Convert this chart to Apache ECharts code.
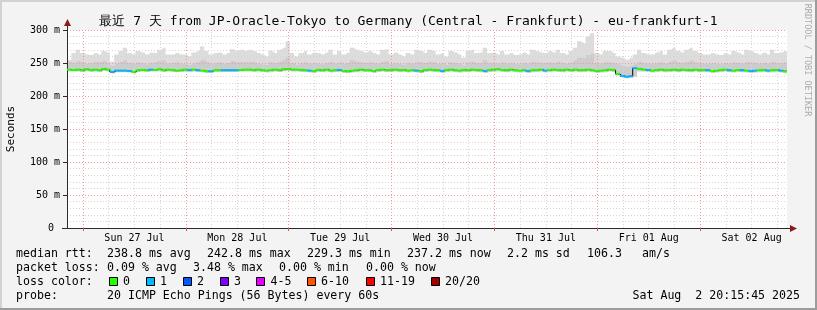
<!DOCTYPE html>
<html><head><meta charset="utf-8">
<script src="https://cdn.jsdelivr.net/npm/echarts@6/dist/echarts.min.js"></script>
<style>html,body{margin:0;padding:0;background:#f3f3f3}#c{width:817px;height:310px}</style>
</head><body><div id="c"></div>
<script>
// ---------- data ----------
const titleText = '最近 7 天 from JP-Oracle-Tokyo to Germany (Central - Frankfurt) - eu-frankfurt-1';
const dayLabels = ['Sun 27 Jul','Mon 28 Jul','Tue 29 Jul','Wed 30 Jul','Thu 31 Jul','Fri 01 Aug','Sat 02 Aug'];
const dayNoonHours = [12,36,60,84,108,132,156];      // hours after 00:00 Sun 27 Jul
const midnightHours = [0,24,48,72,96,120,144];
const sixHourGrid = [6,12,18,30,36,42,54,60,66,78,84,90,102,108,114,126,132,138,150,156,162];
const rangeStart = -3.74, rangeEnd = 164.26;         // 26 Jul 20:15:45 .. 02 Aug 20:15:45
const yTicks = [0,50,100,150,200,250,300];

// hourly samples (ms)
const smokeTop = [
255,265,270,265,263,262,265,263,268,266,252,263,268,273,265,263,268,266,263,266,265,270,273,263,263,265,263,263,260,266,268,275,268,263,265,266,263,265,271,268,270,268,
270,268,265,263,260,268,265,270,273,283,265,260,265,268,263,266,265,263,266,270,263,268,263,266,273,270,268,266,268,265,263,270,271,263,266,263,260,265,263,270,268,265,
270,268,263,265,260,268,266,263,258,268,270,265,266,273,265,266,263,268,263,265,262,263,266,263,270,268,266,265,268,266,270,265,263,268,273,283,280,290,295,265,263,268,
268,265,260,258,255,258,263,270,265,263,263,266,268,263,270,273,268,266,270,273,268,265,263,263,265,263,262,265,263,268,266,263,270,268,265,263,266,263,270,265,266,268];
const innerTop = [
252,250,253,251,249,250,252,251,253,250,246,249,252,254,250,249,251,250,248,250,251,253,254,249,250,251,249,248,247,250,252,255,252,249,250,251,249,250,253,251,252,251,
252,251,249,248,247,251,250,252,254,258,250,247,250,251,249,250,249,248,250,252,249,251,249,250,254,252,251,250,251,250,249,252,253,249,250,249,247,250,249,252,251,250,
252,251,249,250,247,251,250,249,246,251,252,250,250,254,250,250,249,251,249,250,248,249,250,249,252,251,250,250,251,250,252,250,249,251,254,258,257,262,264,250,249,251,
251,250,248,246,244,246,249,252,250,249,249,250,251,249,252,254,251,250,252,254,251,250,249,249,250,249,248,250,249,251,250,249,252,251,250,249,250,249,252,250,250,251];
const smokeLow = [
237,237,237,236.5,237.5,236.5,237,236.5,238,237,234,236,236,236,235.5,234,236.5,237,236.5,237,237,237.5,236.5,237,236.5,236,236.5,237,236.5,237,236.5,236,235,235,236.5,236.5,236.5,236.5,236.5,236.5,237,237,
237,236.5,237,236.5,235.5,236.5,237,236.5,237.5,238,237,237,236.5,236.5,235.5,235,236.5,236.5,237,235.5,236.5,236.5,235,234.5,235.5,236.5,237,236.5,236.5,235,236.5,237,236.5,236.5,237,236.5,236.5,235.5,236.5,235.5,234.5,236.5,
237,236.5,236,235,236.5,237,236,235.5,236.5,236,237,236.5,236,235,236.5,237,237.5,236.5,236,237,236,235.5,236,235,236,236.5,237,235.5,236.5,237,236.5,236,237,236,237,236,236.5,237,236,235,235.5,236,
237,236.5,231,228,227,227.5,229,237,237,236.5,235.5,236.5,237,236,236.5,237,236,237,236.5,236,237,236,236.5,236,235,235.5,236.5,237,236,235.5,236.5,236,235.5,235,235.5,236,236.5,235.5,236,236.5,235.5,234.5];
const median = [
240,239.5,240,239,240.5,239.5,240,239,241,240,236.5,238.5,238.5,238.5,238,236.5,239,239.5,239,240,239.5,240.5,239,240,239.5,238.5,239,240,239.5,240,239,238.5,237.5,237.5,239,239,239,239,239,239,239.5,240,
240,239.5,240,239,238.5,239.5,240,239,240.5,241,240,240,239.5,239,238.5,238,239.5,239,240,238.5,239,239.5,238,237.5,238.5,239,240,239,239,238,239.5,240,239,239.5,240,239,239.5,238.5,239,238.5,237.5,239.5,
240,239.5,239,238,239.5,240,239,238.5,239.5,239,240,239.5,239,238,239.5,240,240.5,239.5,239,240,239,238.5,239,238,239,239.5,240,238.5,239.5,240,239.5,239,240,239,240,239,239.5,240,239,238,238.5,239,
240,239.5,233.5,230.5,229.3,230,242,241,240,239.5,238.5,239.5,240,239,239.5,240,239,240,239.5,239,240,239,239.5,239,238,238.5,239.5,240,239,238.5,239.5,239,238.5,238,238.5,239,239.5,238.5,239,239.5,238.5,237.5];
const lossOneHours = [10,11,12,13,14,19,28,30,33,36,37,38,39,56,63,81,87,97,107,111,129,130,131,132,135,149,154,157,159,160,163,166];

const lossColors = ['#26ff00','#00b8ff','#0059ff','#7e00ff','#e600ff','#ff5500','#ff0000','#a10000'];
const lossLabels = ['0','1','2','3','4-5','6-10','11-19','20/20'];
const rttStats = ['238.8 ms avg','242.8 ms max','229.3 ms min','237.2 ms now','2.2 ms sd','106.3','am/s'];
const lossStats = ['0.09 % avg','3.48 % max','0.00 % min','0.00 % now'];
const probeText = '20 ICMP Echo Pings (56 Bytes) every 60s';
const dateText = 'Sat Aug  2 20:15:45 2025';

// ---------- build ----------
const MONO = '"DejaVu Sans Mono", monospace';
const xs = smokeTop.map((_, i) => rangeStart + i + 0.5);
const loss = median.map((_, i) => lossOneHours.indexOf(i) >= 0 ? 1 : 0);
function pts(arr) {
  const d = arr.map((v, i) => [xs[i], v]);
  d.unshift([rangeStart, arr[0]]);
  d.push([rangeEnd, arr[arr.length - 1]]);
  return d;
}

const vLines = [];
sixHourGrid.forEach(h => vLines.push({xAxis: h, lineStyle: {color: '#d6d6d6', type: [1, 2], width: 1}}));
midnightHours.forEach(h => vLines.push({xAxis: h, lineStyle: {color: '#f29a9a', type: [1, 2], width: 1}}));

const g = [];
// frame
g.push({type:'rect', shape:{x:0,y:0,width:817,height:2}, style:{fill:'#d2d2d2'}, silent:true});
g.push({type:'rect', shape:{x:0,y:0,width:2,height:310}, style:{fill:'#d2d2d2'}, silent:true});
g.push({type:'rect', shape:{x:0,y:308,width:817,height:2}, style:{fill:'#9c9c9c'}, silent:true});
g.push({type:'rect', shape:{x:815,y:0,width:2,height:310}, style:{fill:'#9c9c9c'}, silent:true});
// title
g.push({type:'text', x:408.5, y:21.5, style:{text:titleText, font:'13px ' + MONO, fill:'#000', textAlign:'center', textVerticalAlign:'middle'}});
// watermark
g.push({type:'text', x:807, y:60, rotation:-Math.PI/2, style:{text:'RRDTOOL / TOBI OETIKER', font:'8.5px ' + MONO, fill:'#acacac', textAlign:'center', textVerticalAlign:'middle'}});
// axis arrows
g.push({type:'line', shape:{x1:67.5,y1:30,x2:67.5,y2:24}, style:{stroke:'#2b2b2b', lineWidth:1}, z:10});
g.push({type:'polygon', shape:{points:[[64,26],[71,26],[67.5,19]]}, style:{fill:'#8b1a1a'}, z:10});
g.push({type:'line', shape:{x1:62,y1:228.5,x2:67,y2:228.5}, style:{stroke:'#2b2b2b', lineWidth:1}, z:10});
g.push({type:'line', shape:{x1:787,y1:228.5,x2:792,y2:228.5}, style:{stroke:'#2b2b2b', lineWidth:1}, z:10});
g.push({type:'polygon', shape:{points:[[790,225],[790,232],[797,228.5]]}, style:{fill:'#8b1a1a'}, z:10});
// legend text
const LF = '11.6px ' + MONO;
function txt(s, x, y, align) {
  g.push({type:'text', x:x, y:y, style:{text:s, font:LF, fill:'#000', textAlign:align || 'left', textVerticalAlign:'middle'}});
}
txt('median rtt:', 16, 254);
[107, 207, 307, 407, 507, 587, 642].forEach((x, i) => txt(rttStats[i], x, 254));
txt('packet loss:', 16, 268);
[107, 193, 279, 366].forEach((x, i) => txt(lossStats[i], x, 268));
txt('loss color:', 16, 282);
const boxX = [108.5, 145.5, 182.5, 219.5, 256, 306.5, 365.5, 430.5];
boxX.forEach((x, i) => {
  g.push({type:'rect', shape:{x:Math.round(x)+0.5, y:277.5, width:8, height:8}, style:{fill:lossColors[i], stroke:'#000', lineWidth:1}});
  txt(lossLabels[i], x + 14.5, 282);
});
txt('probe:', 16, 296);
txt(probeText, 107, 296);
txt(dateText, 800, 296, 'right');

const chart = echarts.init(document.getElementById('c'), null, {renderer:'canvas'});
chart.setOption({
  animation: false,
  backgroundColor: '#f3f3f3',
  grid: {left:67, right:30, top:30, bottom:82, show:true, backgroundColor:'#ffffff', borderWidth:0,
         containLabel:false, outerBoundsMode:'none'},
  xAxis: {
    type:'value', min:rangeStart, max:rangeEnd, z:3,
    splitLine:{show:false},
    axisLine:{show:true, onZero:false, lineStyle:{color:'#2b2b2b', width:1}},
    axisTick:{show:true, customValues:midnightHours, length:3, lineStyle:{color:'#e05050'}},
    axisLabel:{customValues:dayNoonHours, margin:5, color:'#000', fontFamily:MONO, fontSize:10,
      formatter: v => dayLabels[dayNoonHours.indexOf(Math.round(v))] || ''}
  },
  yAxis: {
    type:'value', min:0, max:300, interval:50, z:3,
    name:'Seconds', nameLocation:'middle', nameRotate:90, nameGap:50,
    nameTextStyle:{fontFamily:MONO, fontSize:11, color:'#000'},
    axisLine:{show:true, onZero:false, lineStyle:{color:'#2b2b2b', width:1}},
    axisTick:{show:true, length:4, lineStyle:{color:'#2b2b2b'}},
    axisLabel:{margin:7, color:'#000', fontFamily:MONO, fontSize:10,
      formatter: v => yTicks.indexOf(v) >= 0 ? (v === 0 ? '0 ' : v + ' m') : ''},
    splitLine:{show:true, lineStyle:{color:'#f29a9a', type:[1,2], width:1}},
    minorTick:{show:false, splitNumber:5},
    minorSplitLine:{show:true, lineStyle:{color:'#d6d6d6', type:[1,2], width:1}}
  },
  series: [
    {type:'line', name:'outer', step:'middle', data:pts(smokeTop), showSymbol:false,
     lineStyle:{width:0, opacity:0}, areaStyle:{color:'#dcdcdc', opacity:1, origin:'start'}, z:2, silent:true},
    {type:'line', name:'inner', step:'middle', data:pts(innerTop), showSymbol:false,
     lineStyle:{width:0, opacity:0}, areaStyle:{color:'#cccccc', opacity:1, origin:'start'}, z:2, silent:true},
    {type:'line', name:'low', step:'middle', data:pts(smokeLow), showSymbol:false,
     lineStyle:{width:0, opacity:0}, areaStyle:{color:'#ffffff', opacity:1, origin:'start'}, z:2, silent:true,
     markLine:{silent:true, z:3, symbol:['none','none'], label:{show:false}, data:vLines, animation:false}},
    {type:'line', name:'median', step:'middle', data:pts(median), showSymbol:false,
     lineStyle:{color:'#000', width:1}, z:4, silent:true},
    {type:'custom', name:'loss', z:5, clip:true, silent:true,
     data: median.map((v, i) => [xs[i], v, loss[i]]),
     renderItem: function (params, api) {
       const x = api.value(0), y = api.value(1);
       const a = api.coord([Math.max(x - 0.5, rangeStart), y]);
       const b = api.coord([Math.min(x + 0.5, rangeEnd), y]);
       return {type:'rect', shape:{x:a[0], y:a[1] - 1, width:b[0] - a[0], height:2},
               style:{fill: lossColors[api.value(2)]}};
     }}
  ],
  graphic: {elements: g}
});
</script>
</body></html>
